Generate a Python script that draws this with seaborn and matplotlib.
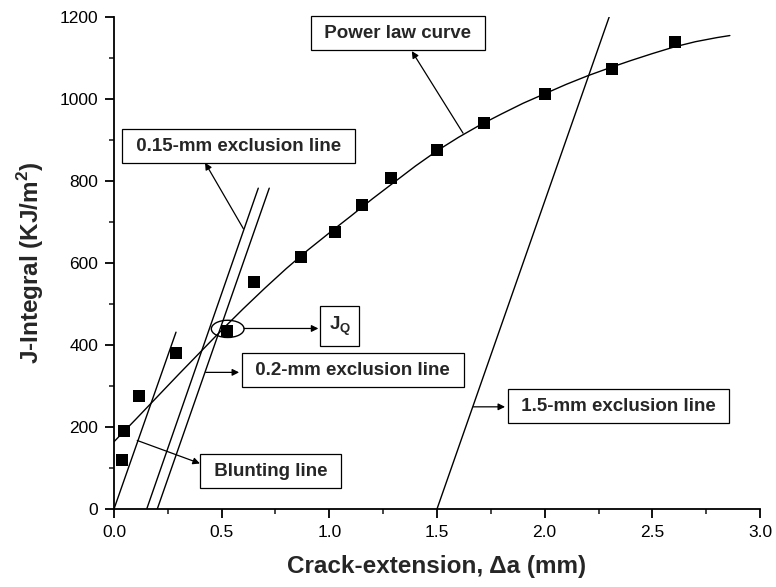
import numpy as np
import pandas as pd
import matplotlib
matplotlib.use("Agg")
import matplotlib.pyplot as plt
from matplotlib.patches import Ellipse
import seaborn as sns

# ---- data ----
crack_ext = [0.037, 0.046, 0.118, 0.287, 0.523, 0.650, 0.869, 1.026, 1.153, 1.287,
             1.500, 1.718, 2.002, 2.313, 2.606]
j_values = [120, 190, 275, 380, 435, 553, 614, 676, 740, 806,
            876, 941, 1012, 1073, 1139]

curve_x = [0.0, 0.1, 0.2, 0.3, 0.4, 0.5, 0.6, 0.7, 0.8, 0.9, 1.0, 1.1, 1.2, 1.3,
           1.4, 1.5, 1.6, 1.7, 1.8, 1.9, 2.0, 2.1, 2.2, 2.3, 2.4, 2.5, 2.6, 2.7,
           2.8, 2.86]
curve_j = [164, 218, 273, 328, 382, 436, 488, 538, 586, 631, 673, 714, 756, 796,
           836, 873, 906, 936, 963, 989, 1012, 1035, 1056, 1075, 1093, 1110, 1126,
           1139, 1149, 1154]

blunt_x = [0.0, 0.288]
blunt_j = [0, 431]
excl015_x = [0.152, 0.670]
excl015_j = [0, 782]
excl02_x = [0.201, 0.721]
excl02_j = [0, 782]
excl15_x = [1.50, 2.30]
excl15_j = [0, 1200]

x_ticks = [0.0, 0.5, 1.0, 1.5, 2.0, 2.5, 3.0]
y_ticks = [0, 200, 400, 600, 800, 1000, 1200]

sns.set_style("ticks")
plt.rcParams['font.family'] = ['Liberation Sans', 'DejaVu Sans']
plt.rcParams['mathtext.fontset'] = 'custom'
plt.rcParams['mathtext.rm'] = 'Liberation Sans'
plt.rcParams['mathtext.bf'] = 'Liberation Sans:bold'

fig = plt.figure(figsize=(7.76, 5.87), dpi=100)
ax = fig.add_axes([0.1469, 0.1329, 0.8325, 0.8387])

sns.lineplot(x=curve_x, y=curve_j, ax=ax, color='black', lw=1.0, sort=False)
for xs, ys in [(blunt_x, blunt_j), (excl015_x, excl015_j),
               (excl02_x, excl02_j), (excl15_x, excl15_j)]:
    sns.lineplot(x=xs, y=ys, ax=ax, color='black', lw=1.0, sort=False)
sns.scatterplot(x=crack_ext, y=j_values, ax=ax, marker='s', s=64,
                color='black', edgecolor='black', linewidth=0, zorder=5)

ax.set_xlim(0, 3.0)
ax.set_ylim(0, 1200)
ax.set_xticks(x_ticks)
ax.set_xticklabels([f"{v:.1f}" for v in x_ticks])
ax.set_yticks(y_ticks)
ax.set_yticklabels([str(v) for v in y_ticks])
ax.set_xticks([0.25, 0.75, 1.25, 1.75, 2.25, 2.75], minor=True)
ax.set_yticks([100, 300, 500, 700, 900, 1100], minor=True)
ax.tick_params(axis='both', which='major', direction='out', length=6.5, width=1.3,
               labelsize=12.5, colors='black', pad=5)
ax.tick_params(axis='both', which='minor', direction='out', length=3.5, width=1.2)
for s in ['top', 'right']:
    ax.spines[s].set_visible(False)
for s in ['left', 'bottom']:
    ax.spines[s].set_linewidth(1.3)
    ax.spines[s].set_color('black')

ax.set_xlabel("Crack-extension, Δa (mm)", fontsize=17.5, fontweight='bold', labelpad=11)
ax.set_ylabel("J-Integral (KJ/m$^\\mathbf{2}$)", fontsize=17.5, fontweight='bold', labelpad=10)

box = dict(boxstyle='square,pad=0.45', fc='white', ec='black', lw=0.9)
arrow = dict(arrowstyle='-|>', color='black', lw=0.9, mutation_scale=10,
             shrinkA=0, shrinkB=0)
labels = [
    (" Power law curve ", (1.319, 1160), (1.621, 916), (1.383, 1116)),
    (" 0.15-mm exclusion line ", (0.578, 884), (0.601, 683), (0.423, 844)),
    (" 0.2-mm exclusion line ", (1.108, 338), (0.426, 333), (0.581, 333)),
    (" Blunting line ", (0.728, 92), (0.108, 167), (0.399, 111)),
    (" 1.5-mm exclusion line ", (2.343, 251), (1.669, 249), (1.816, 249)),
    ("J$_\\mathbf{Q}$", (1.048, 446), (0.604, 440), (0.949, 440)),
]
for txt, pos, start, end in labels:
    ax.annotate("", xy=end, xytext=start, arrowprops=arrow)
    ax.text(pos[0], pos[1], txt, ha='center', va='center', fontsize=13.5,
            fontweight='bold', bbox=box, zorder=6)

ax.add_patch(Ellipse((0.528, 439), width=0.152, height=42, fill=False,
                     ec='black', lw=1.0, zorder=6))

fig.savefig("out.png", dpi=100)
